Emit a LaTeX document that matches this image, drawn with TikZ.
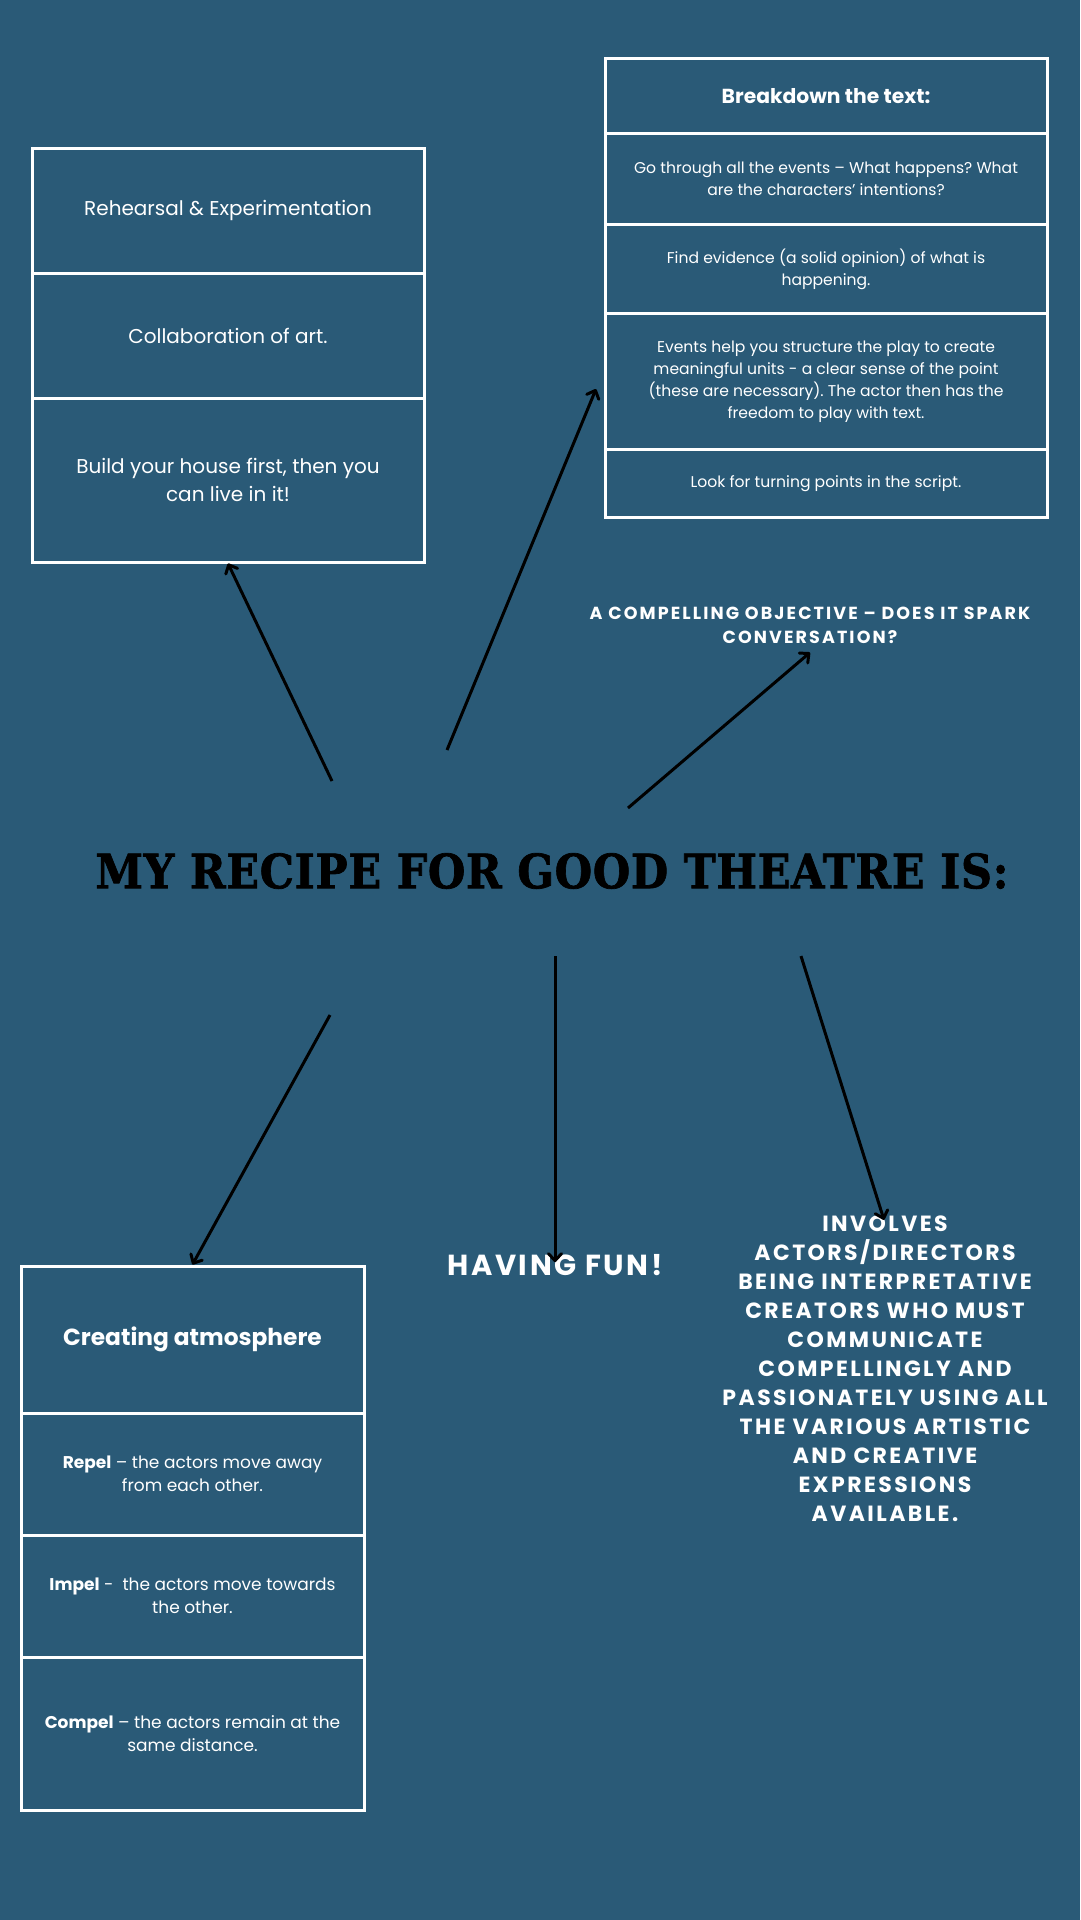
\documentclass[tikz,border=0pt]{standalone}
\usepackage{fontspec}
\setmainfont{Poppins}
\newfontfamily\titlefont[FakeBold=1.5,LetterSpace=1.5]{DejaVu Serif}
\usetikzlibrary{arrows.meta}
\definecolor{bg}{HTML}{2A5A77}
\frenchspacing
\begin{document}
\begin{tikzpicture}[x=1pt,y=-1pt,
  cellL/.style={draw=white, line width=3pt, inner sep=0pt, text=white, align=center, minimum width=392pt},
  cellR/.style={draw=white, line width=3pt, inner sep=0pt, text=white, align=center, minimum width=442pt},
  cellB/.style={draw=white, line width=3pt, inner sep=0pt, text=white, align=center, minimum width=343pt},
  caps/.style={text=white, align=center, inner sep=0pt},
  conn/.style={draw=black, line width=3pt, -{Straight Barb[length=7pt,width=13pt,line width=3pt,round]}}
]
\useasboundingbox (0,0) rectangle (1080,1920);
\fill[bg] (0,0) rectangle (1080,1920);

% left box
\node[cellL, minimum height=125pt, font=\fontsize{20}{28}\selectfont] (l1) at (228,210.5) {Rehearsal \& Experimentation};
\node[cellL, minimum height=125pt, font=\fontsize{20}{28}\selectfont] (l2) at (228,335.5) {Collaboration of art.};
\node[cellL, minimum height=164pt, font=\fontsize{20}{28}\selectfont] (l3) at (228,480) {Build your house first, then you\\can live in it!};

% right box
\node[cellR, minimum height=74.5pt, font=\bfseries\fontsize{20.3}{22}\selectfont] (r1) at (826,96) {Breakdown the text:};
\node[cellR, minimum height=90.5pt, font=\fontsize{15.6}{22}\selectfont] (r2) at (826,179) {Go through all the events – What happens? What\\are the characters’ intentions?};
\node[cellR, minimum height=89.5pt, font=\fontsize{15.6}{22}\selectfont] (r3) at (826,269) {Find evidence (a solid opinion) of what is\\happening.};
\node[cellR, minimum height=136pt, font=\fontsize{15.6}{22}\selectfont] (r4) at (826,381.5) {Events help you structure the play to create\\meaningful units - a clear sense of the point\\(these are necessary). The actor then has the\\freedom to play with text.};
\node[cellR, minimum height=68pt, font=\fontsize{15.6}{22}\selectfont] (r5) at (826,483.5) {Look for turning points in the script.};

% objective
\node[caps, font=\bfseries\fontsize{17.5}{24}\selectfont\addfontfeatures{LetterSpace=12}] (obj) at (810,625) {A COMPELLING OBJECTIVE – DOES IT SPARK\\CONVERSATION?};

% title
\node[text=black, inner sep=0pt, font=\titlefont\bfseries\fontsize{43}{50}\selectfont] (title) at (552,871) {\scalebox{1}[1.1]{MY RECIPE FOR GOOD THEATRE IS:}};

% having fun
\node[caps, font=\bfseries\fontsize{29}{32}\selectfont\addfontfeatures{LetterSpace=9}] (fun) at (555,1265) {HAVING FUN!};

% involves
\node[caps, font=\bfseries\fontsize{22}{29}\selectfont\addfontfeatures{LetterSpace=11}] (inv) at (885,1369) {INVOLVES\\ACTORS/DIRECTORS\\BEING INTERPRETATIVE\\CREATORS WHO MUST\\COMMUNICATE\\COMPELLINGLY AND\\PASSIONATELY USING ALL\\THE VARIOUS ARTISTIC\\AND CREATIVE\\EXPRESSIONS\\AVAILABLE.};

% bottom box
\node[cellB, minimum height=147pt, font=\bfseries\fontsize{23.3}{28}\selectfont] (b1) at (192.5,1339.5) {Creating atmosphere};
\node[cellB, minimum height=122pt, font=\fontsize{17}{23.5}\selectfont] (b2) at (192.5,1474) {\textbf{Repel} – the actors move away\\from each other.};
\node[cellB, minimum height=122pt, font=\fontsize{17}{23.5}\selectfont] (b3) at (192.5,1596) {\textbf{Impel} -\ \ the actors move towards\\the other.};
\node[cellB, minimum height=153pt, font=\fontsize{17}{23.5}\selectfont] (b4) at (192.5,1733.5) {\textbf{Compel} – the actors remain at the\\same distance.};

% arrow tails
\coordinate (t1) at (332,781);
\coordinate (t2) at (447,750);
\coordinate (t3) at (628,808);
\coordinate (t4) at (330,1015);
\coordinate (t5) at (555,956);
\coordinate (t6) at (801,956);
\coordinate (h2) at (596,389);

\draw[conn] (t1) -- (l3.south);
\draw[conn] (t2) -- (h2);
\draw[conn] (t3) -- ([yshift=-9pt]obj.south);
\draw[conn] (t4) -- (b1.north);
\draw[conn] (t5) -- ([yshift=-8pt]fun.north);
\draw[conn] (t6) -- ([xshift=-1pt,yshift=-4pt]inv.north);
\end{tikzpicture}
\end{document}
